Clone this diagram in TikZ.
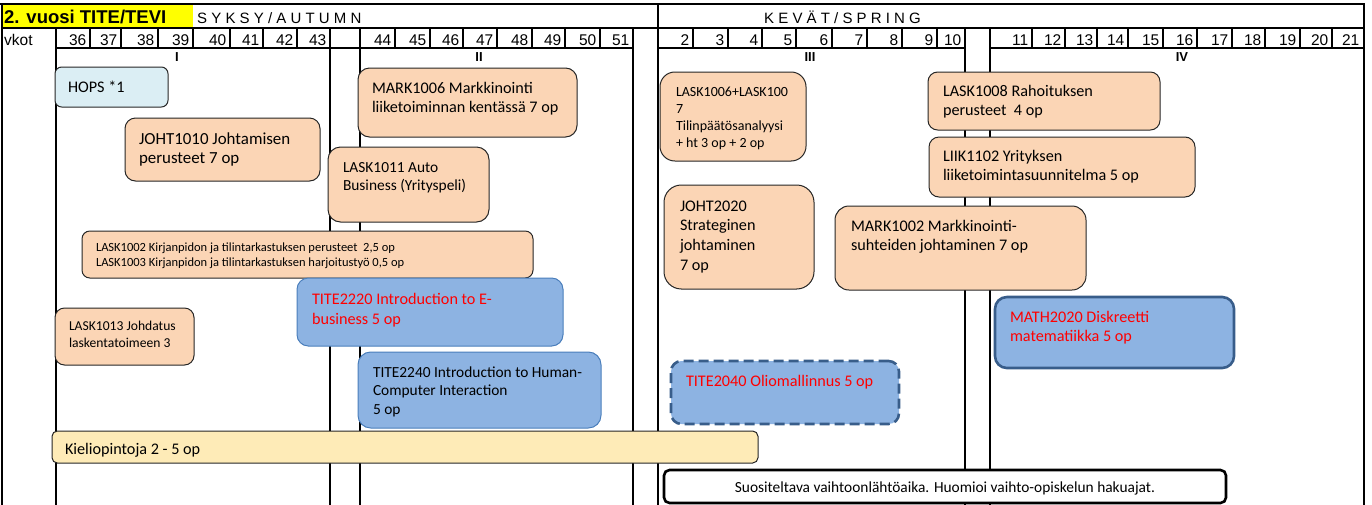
\documentclass[tikz,border=0pt]{standalone}
\usepackage{fontspec}
\setmainfont{Carlito}
\newfontfamily\arialf{Liberation Sans}
\definecolor{peach}{HTML}{FBD5B5}
\definecolor{hopsblue}{HTML}{DBEEF4}
\definecolor{cblue}{HTML}{8DB3E2}
\definecolor{cblueline}{HTML}{4A7EBB}
\definecolor{dblueline}{HTML}{385D8A}
\definecolor{kieli}{HTML}{FEEBB7}
\definecolor{hdryellow}{HTML}{FFFF00}
\newcommand\mlines[1]{\begin{tabular}[t]{@{}l@{}}#1\end{tabular}}
\newcommand\course[6]{%
  \pgfmathsetmacro\crad{0.1667*min(#5-#3,#6-#4)}%
  \node[#2, rounded corners=\crad pt, anchor=north west, inner sep=0pt, outer sep=0pt,
        minimum width={#5-#3}, minimum height={#6-#4}] (#1) at (#3,#4) {};%
}
\tikzset{
  frame/.style={line width=2pt, line cap=rect},
  wsep/.style={line width=1.2pt},
  pbox/.style={draw=black!85, line width=1pt, fill=peach},
  hbox/.style={draw=black!85, line width=1pt, fill=hopsblue},
  bbox/.style={draw=cblueline, line width=1pt, fill=cblue},
  mbox/.style={draw=dblueline, line width=2.6pt, fill=cblue},
  dbox/.style={draw=dblueline, line width=2.6pt, fill=cblue, dash pattern=on 10pt off 5pt},
  kbox/.style={draw=black!85, line width=1pt, fill=kieli},
  wbox/.style={draw=black, line width=2.6pt, fill=white},
  txt/.style={anchor=base west, inner sep=0pt, outer sep=0pt},
  big/.style={font=\fontsize{16.2}{19.8}\selectfont},
  bigx/.style={font=\fontsize{16.9}{19.8}\selectfont},
  mid/.style={font=\fontsize{15.4}{18.8}\selectfont},
  sml/.style={font=\fontsize{14}{16.9}\selectfont},
  smx/.style={font=\fontsize{13.6}{16.6}\selectfont},
  tiny/.style={font=\fontsize{12.5}{15.5}\selectfont},
  wk/.style={anchor=base east, inner sep=0pt, font=\arialf\fontsize{15.5}{18}\selectfont},
  per/.style={anchor=base, inner sep=0pt, font=\arialf\bfseries\fontsize{13}{15}\selectfont},
  hdr/.style={anchor=base west, inner sep=0pt, font=\arialf\fontsize{15}{18}\selectfont},
}
\begin{document}
\begin{tikzpicture}[x=1pt,y=-1pt]
\useasboundingbox (0,0) rectangle (1372,504);
% header yellow cell
\fill[hdryellow] (2,5) rectangle (193,28);
% week separators
\foreach \s in {90,121,158,193,230,263,297,395,430,463,497,532,565,600,693,728,762,796,832,867,902,937,1032,1065,1097,1128,1163,1197,1232,1265,1300,1332}
  \draw[wsep] (\s,28) -- (\s,48);
% frame lines
\draw[frame] (0,4) -- (1364,4);
\draw[frame] (2,4) -- (2,504);
\draw[frame] (1364,4) -- (1364,504);
\draw[frame] (2,28) -- (1364,28);
\draw[frame] (658,4) -- (658,504);
\foreach \s in {56,330,359.5,633,965,990}
  \draw[frame] (\s,28) -- (\s,504);
\draw[frame] (56,48) -- (633,48);
\draw[frame] (658,48) -- (965,48);
\draw[frame] (990,48) -- (1364,48);
% header texts
\node[anchor=base west, inner sep=0pt, font=\arialf\bfseries\fontsize{18.5}{20}\selectfont] (title) at (4,23.3) {2. vuosi TITE/TEVI};
\node[hdr] (autumn) at (197,23.2) {S Y K S Y / A U T U M N};
\node[hdr] (spring) at (764,23) {K E V Ä T / S P R I N G};
\node[anchor=base west, inner sep=0pt, font=\arialf\fontsize{15.5}{18}\selectfont] (vkot) at (4,45) {vkot};
\foreach \r/\w in {90/36,121/37,158/38,193/39,230/40,263/41,297/42,330/43,395/44,430/45,463/46,497/47,532/48,565/49,600/50,633/51,693/2,728/3,762/4,796/5,832/6,867/7,902/8,937/9,965/10,1032/11,1065/12,1097/13,1128/14,1163/15,1197/16,1232/17,1265/18,1300/19,1332/20,1363/21}
  \node[wk] (w\w) at (\r-3.5,45) {\w};
% period labels
\node[per] (pI) at (177,61.5) {I};
\node[per] (pII) at (479,61.5) {II};
\node[per] (pIII) at (810,61.5) {III};
\node[per] (pIV) at (1182,61.5) {IV};
% course boxes
\course{hops}{hbox}{55}{67}{168}{107}
\node[txt,big] (hops-t) at (68,92) {HOPS *1};
\course{joht1010}{pbox}{125}{118}{320}{181}
\node[txt,bigx] (joht1010-t) at (139,144) {\mlines{JOHT1010 Johtamisen\\perusteet 7 op}};
\course{mark1006}{pbox}{358}{68}{577}{137}
\node[txt,big] (mark1006-t) at (372,93) {\mlines{MARK1006 Markkinointi\\liiketoiminnan kentässä 7 op}};
\course{lask1011}{pbox}{328}{147}{489}{222}
\node[txt,mid] (lask1011-t) at (343,172) {\mlines{LASK1011 Auto\\Business (Yrityspeli)}};
\course{lask1002}{pbox}{82}{231}{533}{278}
\node[txt,tiny] (lask1002-t) at (96,251) {\mlines{LASK1002 Kirjanpidon ja tilintarkastuksen perusteet\ \ 2,5 op\\LASK1003 Kirjanpidon ja tilintarkastuksen harjoitustyö 0,5 op}};
\course{tite2220}{bbox}{297}{278}{563}{346}
\node[txt,big,text=red] (tite2220-t) at (312,304.5) {\mlines{TITE2220 Introduction to E-\\business 5 op}};
\course{lask1013}{pbox}{55}{308}{194}{365}
\node[txt,smx] (lask1013-t) at (69,330.5) {\mlines{LASK1013 Johdatus\\laskentatoimeen 3}};
\course{tite2240}{bbox}{358}{352}{601}{428}
\node[txt,mid] (tite2240-t) at (373,377) {\mlines{TITE2240 Introduction to Human-\\Computer Interaction\\5 op}};
\course{kieli}{kbox}{52}{431}{758}{463}
\node[txt,big] (kieli-t) at (65,454) {Kieliopintoja 2 - 5 op};
\course{lask1006}{pbox}{660}{72}{806}{161}
\node[txt,sml] (lask1006-t) at (676,96.5) {\mlines{LASK1006+LASK100\\7\\Tilinpäätösanalyysi\\+ ht 3 op + 2 op}};
\course{joht2020}{pbox}{664}{185}{814}{289}
\node[txt,big] (joht2020-t) at (680,211) {\mlines{JOHT2020\\Strateginen\\johtaminen\\7 op}};
\course{lask1008}{pbox}{928}{72}{1160}{130}
\node[txt,big] (lask1008-t) at (943,96) {\mlines{LASK1008 Rahoituksen\\perusteet\ \ 4 op}};
\course{liik1102}{pbox}{929}{137}{1195}{197}
\node[txt,big] (liik1102-t) at (943,161) {\mlines{LIIK1102 Yrityksen\\liiketoimintasuunnitelma 5 op}};
\course{mark1002}{pbox}{835}{206}{1086}{290}
\node[txt,big] (mark1002-t) at (851,231) {\mlines{MARK1002 Markkinointi-\\suhteiden johtaminen 7 op}};
\course{math2020}{mbox}{995}{297}{1234}{368}
\node[txt,big,text=red] (math2020-t) at (1010,322) {\mlines{MATH2020 Diskreetti\\matematiikka 5 op}};
\course{tite2040}{dbox}{671}{361}{899}{424}
\node[txt,big,text=red] (tite2040-t) at (686,386) {TITE2040 Oliomallinnus 5 op};
\course{vaihto}{wbox}{664}{470}{1226}{503}
\node[anchor=base, inner sep=0pt, mid] (vaihto-t) at (945,492) {Suositeltava vaihtoonlähtöaika. Huomioi vaihto-opiskelun hakuajat.};
\end{tikzpicture}
\end{document}
